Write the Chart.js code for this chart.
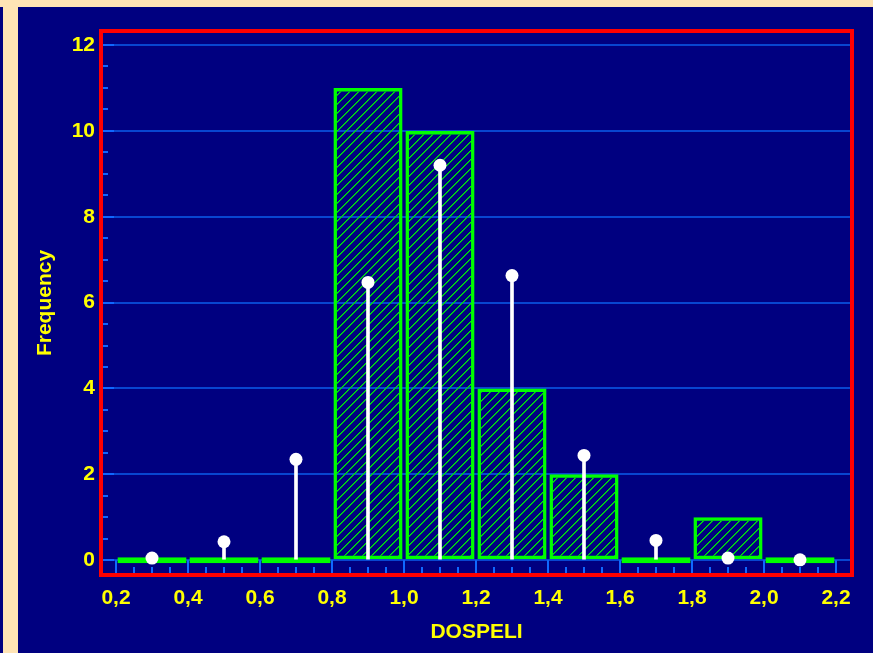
<!DOCTYPE html>
<html>
<head>
<meta charset="utf-8">
<script src="https://cdn.jsdelivr.net/npm/chart.js@4/dist/chart.umd.min.js"></script>
<style>
  html, body { margin: 0; padding: 0; background: #000080; overflow: hidden; }
  #wrap { position: relative; width: 873px; height: 653px; }
  .band-top { position: absolute; left: 0; top: 0; width: 873px; height: 7px; background: #FFE4B5; }
  .band-left { position: absolute; left: 3px; top: 0; width: 15px; height: 653px; background: #FFE4B5; }
  #c { position: absolute; left: 0; top: 0; }
</style>
</head>
<body>
<div id="wrap">
  <div class="band-top"></div>
  <div class="band-left"></div>
  <canvas id="c" width="873" height="653"></canvas>
</div>
<script>
// Histogram of DOSPELI (bin width 0.2) with the fitted normal frequencies
const binCentres   = [0.3, 0.5, 0.7, 0.9, 1.1, 1.3, 1.5, 1.7, 1.9, 2.1];
const frequencies  = [0, 0, 0, 11, 10, 4, 2, 0, 1, 0];
const normalFit    = [0.05, 0.43, 2.35, 6.47, 9.20, 6.63, 2.44, 0.46, 0.05, 0.01];
const xTickLabels  = ['0,2', '0,4', '0,6', '0,8', '1,0', '1,2', '1,4', '1,6', '1,8', '2,0', '2,2'];
const yTickLabels  = ['0', '2', '4', '6', '8', '10', '12'];

const YELLOW = '#FFFF00';
const GREEN = '#00FF00';
const TICK_BLUE = '#1068FF';
const GRID_BLUE = '#0846D0';
const FONT = '"Liberation Sans", Arial, sans-serif';

const canvas = document.getElementById('c');
const ctx = canvas.getContext('2d');

// Diagonal "/" hatching on a transparent tile
function makeHatch() {
  const t = document.createElement('canvas');
  t.width = 9; t.height = 9;
  const g = t.getContext('2d');
  for (let i = 0; i < 9; i++) {
    g.fillStyle = '#00F000';
    g.fillRect(i, 8 - i, 1, 1);
    g.fillStyle = 'rgba(0,190,40,0.75)';
    g.fillRect((i + 1) % 9, 8 - i, 1, 1);
  }
  return ctx.createPattern(t, 'repeat');
}

// Inner tick marks and the red frame around the plot area
const frameAndTicks = {
  id: 'frameAndTicks',
  beforeDatasetsDraw(chart) {
    const { ctx, chartArea: a, scales: { x, y } } = chart;
    ctx.save();
    ctx.strokeStyle = TICK_BLUE;
    ctx.lineWidth = 2;
    ctx.beginPath();
    for (let k = 0; k * 0.5 <= y.max; k++) {
      const py = Math.round(y.getPixelForValue(k * 0.5));
      const len = (k % 4 === 0) ? 15 : 9;
      ctx.moveTo(a.left, py);
      ctx.lineTo(a.left + len, py);
    }
    const yZero = y.getPixelForValue(0);
    for (let k = 0; k <= 40; k++) {
      const px = Math.round(x.getPixelForValue(0.2 + k * 0.05));
      const top = (k % 4 === 0) ? yZero : a.bottom - 10;
      ctx.moveTo(px, top);
      ctx.lineTo(px, a.bottom);
    }
    ctx.stroke();
    ctx.restore();
  },
  afterDraw(chart) {
    const { ctx, chartArea: a } = chart;
    ctx.save();
    ctx.strokeStyle = '#FF0000';
    ctx.lineWidth = 4;
    ctx.strokeRect(a.left + 2, a.top + 2, a.right - a.left - 4, a.bottom - a.top - 4);
    ctx.restore();
  }
};

new Chart(ctx, {
  type: 'bar',
  data: {
    datasets: [
      {
        type: 'line',
        data: binCentres.map((x, i) => ({ x, y: normalFit[i] })),
        showLine: false,
        pointRadius: 6.5,
        pointBackgroundColor: '#FFFFFF',
        pointBorderWidth: 0,
        order: 0
      },
      {
        type: 'bar',
        data: binCentres.map((x, i) => ({ x, y: normalFit[i] })),
        backgroundColor: '#FFFFFF',
        borderWidth: 0,
        barThickness: 3,
        grouped: false,
        order: 1
      },
      {
        type: 'bar',
        data: binCentres.map((x, i) => ({ x, y: frequencies[i] })),
        backgroundColor: makeHatch(),
        borderColor: GREEN,
        borderWidth: 3.5,
        borderSkipped: false,
        minBarLength: 6,
        categoryPercentage: 1,
        barPercentage: 0.96,
        grouped: false,
        order: 2
      }
    ]
  },
  options: {
    responsive: false,
    animation: false,
    devicePixelRatio: 1,
    layout: { padding: { left: 0, top: 29, right: 19, bottom: 0 } },
    plugins: { legend: { display: false }, tooltip: { enabled: false } },
    scales: {
      x: {
        type: 'linear',
        min: 0.1528,
        max: 2.25,
        offset: false,
        afterFit: s => { s.height = 76; },
        border: { display: false },
        grid: { display: false, drawTicks: false },
        ticks: {
          stepSize: 0.2,
          includeBounds: false,
          autoSkip: false,
          maxRotation: 0,
          padding: 9,
          color: YELLOW,
          font: { family: FONT, size: 21, weight: 'bold' },
          callback: v => xTickLabels[Math.round((v - 0.2) / 0.2)]
        },
        title: {
          display: true,
          text: 'DOSPELI',
          color: YELLOW,
          font: { family: FONT, size: 21, weight: 'bold' },
          padding: { top: 0, bottom: 8 }
        }
      },
      y: {
        min: -0.391,
        max: 12.373,
        afterFit: s => { s.width = 99; },
        border: { display: false },
        grid: { color: GRID_BLUE, lineWidth: 2, drawTicks: false },
        ticks: {
          stepSize: 2,
          includeBounds: false,
          padding: 4,
          color: YELLOW,
          font: { family: FONT, size: 21, weight: 'bold' },
          callback: v => yTickLabels[Math.round(v / 2)]
        },
        title: {
          display: true,
          text: 'Frequency',
          color: YELLOW,
          font: { family: FONT, size: 21, weight: 'bold' },
          padding: { top: 33, bottom: 0 }
        }
      }
    }
  },
  plugins: [frameAndTicks]
});
</script>
</body>
</html>
